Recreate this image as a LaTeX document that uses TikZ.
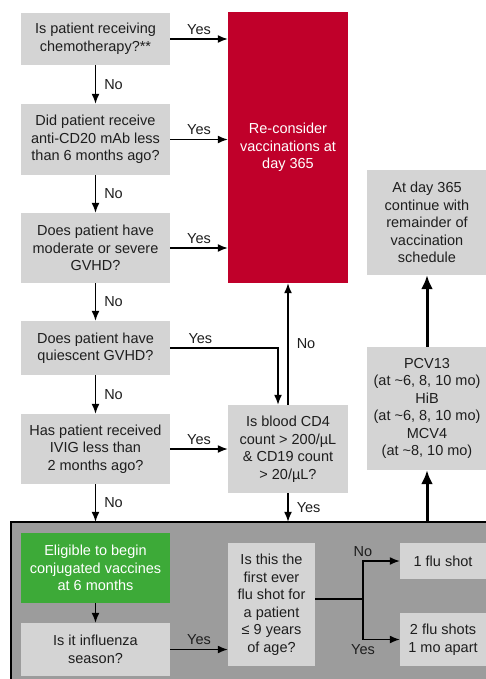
\documentclass[tikz,border=0pt]{standalone}
\usepackage{fontspec}
\setmainfont{Liberation Sans}
\usetikzlibrary{arrows.meta, positioning}
\definecolor{cell area}{HTML}{D4D4D4}
\definecolor{pool area}{HTML}{9C9C9C}
\definecolor{stop area}{HTML}{C0002A}
\definecolor{go area}{HTML}{3DAA38}
\definecolor{cell text}{HTML}{1E1E1E}
\tikzset{
  cell/.style={fill=cell area, text=cell text, align=center, inner sep=0pt},
  stopcell/.style={cell, fill=stop area, text=white},
  gocell/.style={cell, fill=go area, text=white},
  pool/.style={fill=pool area, minimum width=475pt, minimum height=157pt, inner sep=0pt},
  lbl/.style={text=cell text, inner sep=2pt}
}

\begin{document}
\begin{tikzpicture}[x=1pt, y=-1pt, font=\fontsize{14.5}{17.5}\selectfont]
	\tikzstyle{arrowline}=[draw, line width=1.5pt, -{Latex[length=10pt, width=8pt]}]
	\tikzstyle{bigline}=[draw, line width=3pt, -{Latex[length=14pt, width=12pt]}]

	\useasboundingbox (0,0) rectangle (486,679);

	\node[pool] (pool) at (248.5,600.5) {};
	\draw[line width=1.5pt] (pool.north east) -- (pool.north west) -- (pool.south west);

	\node[cell, minimum width=149pt, minimum height=52pt] (chemo) at (95.5,39) {Is patient receiving\\chemotherapy?**};
	\node[cell, minimum width=149pt, minimum height=71pt] (antib) at (95.5,139.5) {Did patient receive\\anti-CD20 mAb less\\than 6 months ago?};
	\node[cell, minimum width=149pt, minimum height=70pt] (gvhd) at (95.5,248) {Does patient have\\moderate or severe\\GVHD?};
	\node[cell, minimum width=149pt, minimum height=54pt] (quiet) at (95.5,348) {Does patient have\\quiescent GVHD?};
	\node[cell, minimum width=149pt, minimum height=70pt] (ivig) at (95.5,449) {Has patient received\\IVIG less than\\2 months ago?};

	\node[stopcell, minimum width=120pt, minimum height=271pt] (recon) at (288,147.5) {Re-consider\\vaccinations at\\day 365};
	\node[cell, minimum width=120pt, minimum height=88pt] (count) at (288,449) {Is blood CD4\\count > 200/µL\\\& CD19 count\\> 20/µL?};

	\node[cell, minimum width=120pt, minimum height=105pt] (rest) at (427,222.5) {At day 365\\continue with\\remainder of\\vaccination\\schedule};
	\node[cell, minimum width=120pt, minimum height=123pt] (conj) at (427,408.5) {PCV13\\(at \textasciitilde6, 8, 10 mo)\\HiB\\(at \textasciitilde6, 8, 10 mo)\\MCV4\\(at \textasciitilde8, 10 mo)};

	\node[gocell, minimum width=149pt, minimum height=70pt] (elig) at (95.5,568) {Eligible to begin\\conjugated vaccines\\at 6 months};
	\node[cell, minimum width=149pt, minimum height=53pt] (season) at (95.5,649.5) {Is it influenza\\season?};
	\node[cell, minimum width=87pt, minimum height=123pt] (first) at (271.5,604.5) {Is this the\\first ever\\flu shot for\\a patient\\≤ 9 years\\of age?};
	\node[cell, minimum width=86pt, minimum height=36pt] (oneshot) at (443,561) {1 flu shot};
	\node[cell, minimum width=86pt, minimum height=53pt] (twoshot) at (443,639.5) {2 flu shots\\1 mo apart};
	\coordinate (split) at (363,599);

	\path[arrowline] (chemo) -- (chemo -| recon.west) node[lbl, midway, above=2pt] {Yes};
	\path[arrowline] (antib) -- (antib -| recon.west) node[lbl, midway, above=2pt] {Yes};
	\path[arrowline] (gvhd) -- (gvhd -| recon.west) node[lbl, midway, above=2pt] {Yes};
	\path[arrowline] (chemo) -- (antib) node[lbl, midway, right=6pt] {No};
	\path[arrowline] (antib) -- (gvhd) node[lbl, midway, right=6pt] {No};
	\path[arrowline] (gvhd) -- (quiet) node[lbl, midway, right=6pt] {No};
	\path[arrowline] (quiet) -- (ivig) node[lbl, midway, right=6pt] {No};
	\path[arrowline] (ivig) -- (ivig |- pool.north) node[lbl, midway, right=6pt] {No};
	\path[arrowline] (quiet.east) -| ([xshift=-10pt]count.north) node[lbl, pos=0.14, above=2pt] {Yes};
	\path[arrowline] (ivig) -- (count) node[lbl, midway, above=2pt] {Yes};
	\path[arrowline] (count) -- (recon) node[lbl, midway, right=6pt] {No};
	\path[arrowline] (count) -- (count |- pool.north) node[lbl, midway, right=6pt] {Yes};
	\path[bigline] (pool.north -| conj) -- (conj);
	\path[bigline] (conj) -- (rest);

	\path[arrowline] (elig) -- (season);
	\path[arrowline] (season) -- (season -| first.west) node[lbl, midway, above=2pt] {Yes};
	\draw[line width=1.5pt] (first.east |- split) -- (split);
	\path[arrowline] (split) |- (oneshot) node[lbl, pos=0.5, above=2pt] {No};
	\path[arrowline] (split) |- (twoshot) node[lbl, pos=0.5, below=2pt] {Yes};
\end{tikzpicture}
\end{document}
